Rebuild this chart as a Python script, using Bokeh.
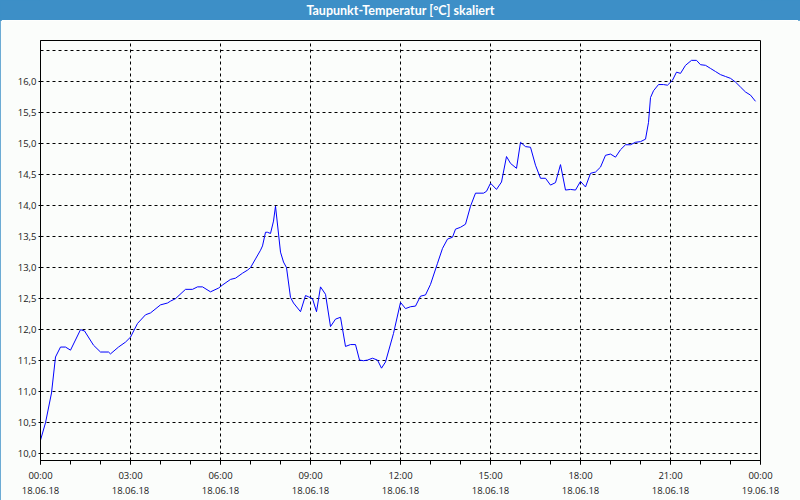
from bokeh.plotting import figure
from bokeh.layouts import column
from bokeh.models import (FixedTicker, CustomJSTickFormatter, Label, Range1d,
                          ColumnDataSource)
from bokeh.core.properties import value
from bokeh.embed import file_html
from bokeh.resources import INLINE

# ---------------- data ----------------
title_text = "Taupunkt-Temperatur [°C] skaliert"
unit_text = "°C"

# minutes since 18.06.18 00:00
minutes = [0, 10, 22, 30, 40, 50, 60, 80, 88, 106, 120, 136, 140, 156, 170, 180,
           194, 210, 220, 240, 254, 260, 270, 290, 304, 314, 324, 340, 356, 364,
           380, 390, 404, 414, 420, 430, 440, 444, 450, 454, 460, 466, 470, 480,
           486, 492, 500, 506, 520, 530, 536, 544, 552, 560, 570, 580, 590, 600,
           610, 620, 630, 638, 646, 654, 664, 674, 682, 690, 706, 720, 730, 740,
           750, 760, 770, 780, 794, 804, 814, 824, 830, 840, 850, 860, 870, 886,
           892, 900, 912, 922, 932, 940, 952, 960, 970, 980, 990, 1000, 1010,
           1020, 1030, 1040, 1050, 1060, 1070, 1080, 1090, 1100, 1110, 1120,
           1130, 1140, 1150, 1160, 1170, 1180, 1190, 1200, 1210, 1216, 1220,
           1226, 1236, 1246, 1254, 1264, 1272, 1280, 1290, 1302, 1312, 1320,
           1330, 1340, 1350, 1360, 1370, 1380, 1390, 1400, 1410, 1420, 1430]
dewpoint = [10.22, 10.5, 10.98, 11.56, 11.72, 11.72, 11.67, 12.0, 11.98, 11.75,
            11.64, 11.64, 11.61, 11.72, 11.8, 11.88, 12.1, 12.24, 12.27, 12.4,
            12.43, 12.46, 12.5, 12.65, 12.65, 12.69, 12.69, 12.61, 12.67, 12.72,
            12.81, 12.83, 12.91, 12.96, 13.0, 13.14, 13.28, 13.35, 13.57, 13.57,
            13.55, 13.75, 13.99, 13.25, 13.09, 13.0, 12.52, 12.43, 12.29, 12.55,
            12.53, 12.5, 12.29, 12.69, 12.57, 12.05, 12.17, 12.2, 11.73, 11.76,
            11.76, 11.51, 11.5, 11.51, 11.54, 11.51, 11.38, 11.48, 11.94, 12.44,
            12.34, 12.37, 12.38, 12.54, 12.56, 12.73, 13.07, 13.31, 13.46, 13.49,
            13.62, 13.65, 13.70, 13.99, 14.2, 14.2, 14.23, 14.36, 14.26, 14.38,
            14.79, 14.68, 14.6, 15.02, 14.95, 14.94, 14.65, 14.44, 14.44, 14.33,
            14.37, 14.66, 14.25, 14.26, 14.25, 14.39, 14.3, 14.52, 14.54, 14.62,
            14.81, 14.83, 14.78, 14.9, 14.98, 14.98, 15.02, 15.03, 15.07, 15.34,
            15.74, 15.85, 15.95, 15.95, 15.94, 16.02, 16.15, 16.13, 16.26, 16.34,
            16.34, 16.27, 16.26, 16.21, 16.16, 16.11, 16.08, 16.05, 15.99, 15.91,
            15.83, 15.78, 15.68]

x_tick_hours = [0, 3, 6, 9, 12, 15, 18, 21, 24]
x_tick_labels = ["00:00\n18.06.18", "03:00\n18.06.18", "06:00\n18.06.18",
                 "09:00\n18.06.18", "12:00\n18.06.18", "15:00\n18.06.18",
                 "18:00\n18.06.18", "21:00\n18.06.18", "00:00\n19.06.18"]
x_minor_hours = list(range(0, 25))
y_ticks = [10.0, 10.5, 11.0, 11.5, 12.0, 12.5, 13.0, 13.5, 14.0, 14.5, 15.0,
           15.5, 16.0, 16.5]

# ---------------- styles ----------------
BLUE_BAR = "#3d8fc7"
BG = "#fbfdfb"
FONT = "Open Sans"
TXT = "#1a1a1a"

hours = [m / 60.0 for m in minutes]
src = ColumnDataSource(dict(h=hours, v=dewpoint))

# title bar
tb = figure(width=800, height=20, x_range=(0, 1), y_range=(0, 1),
            output_backend="svg", toolbar_location=None,
            min_border=0, min_border_left=0, min_border_right=0,
            min_border_top=0, min_border_bottom=0)
tb.axis.visible = False
tb.grid.visible = False
tb.outline_line_color = BLUE_BAR
tb.outline_line_width = 3
tb.background_fill_color = BLUE_BAR
tb.border_fill_color = BLUE_BAR
tb.text(x=[0.5], y=[0.5], text=[title_text], text_align="center",
        text_baseline="middle", text_color="white", text_font_size="12.5px",
        text_font_style="bold", text_font=value("Lato"))

# main plot
p = figure(width=800, height=480, output_backend="svg", toolbar_location=None,
           x_range=Range1d(0, 24), y_range=Range1d(9.892, 16.66),
           min_border_left=40, min_border_right=40, min_border_top=20,
           min_border_bottom=40)
p.background_fill_color = BG
p.border_fill_color = BG
p.outline_line_color = "black"
p.outline_line_width = 1

p.line("h", "v", source=src, line_color="#0000ff", line_width=1)

# x axis
xa = p.xaxis[0]
xa.ticker = FixedTicker(ticks=x_tick_hours, minor_ticks=x_minor_hours)
xa.major_label_overrides = {h: lab for h, lab in zip(x_tick_hours, x_tick_labels)}
xa.major_label_text_font = FONT
xa.major_label_text_font_size = "9.5px"
xa.major_label_text_color = TXT
xa.major_tick_out = 4
xa.major_tick_in = 0
xa.minor_tick_out = 4
xa.minor_tick_in = 0
xa.major_label_standoff = 4
xa.axis_line_color = "black"

# y axis
ya = p.yaxis[0]
ya.ticker = FixedTicker(ticks=y_ticks[:-1], minor_ticks=[])
ya.formatter = CustomJSTickFormatter(code="return tick.toFixed(1).replace('.', ',');")
ya.major_label_text_font = FONT
ya.major_label_text_font_size = "9.5px"
ya.major_label_text_color = TXT
ya.major_tick_out = 2
ya.major_tick_in = 0
ya.minor_tick_out = 0
ya.major_label_standoff = 2
ya.axis_line_color = "black"

# grids
p.xgrid[0].ticker = FixedTicker(ticks=x_tick_hours[1:-1])
p.ygrid[0].ticker = FixedTicker(ticks=y_ticks)
for g in (p.xgrid[0], p.ygrid[0]):
    g.grid_line_color = "black"
    g.grid_line_dash = "3 3"
    g.grid_line_width = 1

p.add_layout(Label(x=0, y=16.66, text=unit_text, text_align="right",
                   text_baseline="top", x_offset=-3, y_offset=0,
                   text_font=FONT, text_font_size="9.5px",
                   text_color=TXT))

layout = column(tb, p, spacing=0)
layout.styles = {"outline": "2px solid " + BLUE_BAR, "outline-offset": "-2px"}
open("out.html", "w").write(file_html(layout, INLINE))
